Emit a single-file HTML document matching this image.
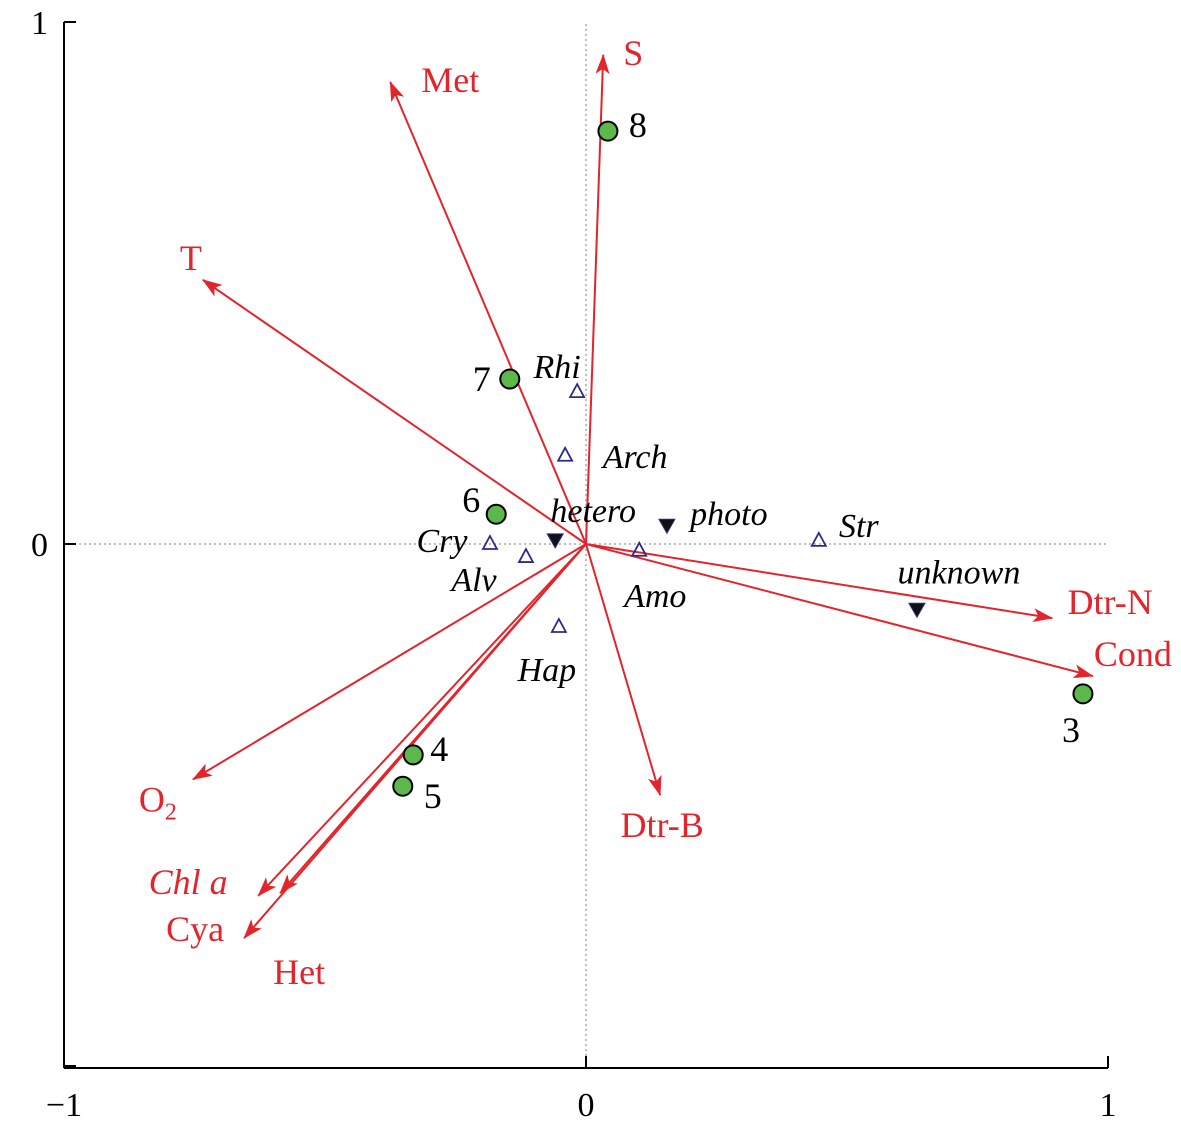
<!DOCTYPE html>
<html><head><meta charset="utf-8"><style>
html,body{margin:0;padding:0;background:#fff;}
svg text{font-family:"Liberation Serif",serif;}
</style></head><body>
<svg id="chart" width="1181" height="1131" viewBox="0 0 1181 1131" xmlns="http://www.w3.org/2000/svg">
<defs><marker id="ah" viewBox="0 0 20 14" refX="19" refY="7" markerWidth="20" markerHeight="14" orient="auto" markerUnits="userSpaceOnUse"><path d="M0,0 L20,7 L0,14 L5,7 Z" fill="#e3242b"/></marker></defs>
<g id="axes"></g>
<g id="arrows"></g>
<g id="points"></g>
</svg>
<script>
const vecNames=["S","Met","T","O2","Chl a","Cya","Het","Dtr-B","Dtr-N","Cond"];
const vecX=[0.033,-0.375,-0.734,-0.753,-0.628,-0.586,-0.655,0.142,0.893,0.971];
const vecY=[0.937,0.885,0.506,-0.451,-0.674,-0.669,-0.755,-0.481,-0.142,-0.253];
const siteNames=["8","7","6","4","5","3"];
const siteX=[0.042,-0.146,-0.172,-0.331,-0.351,0.952];
const siteY=[0.791,0.316,0.057,-0.404,-0.464,-0.287];
const taxaNames=["Rhi","Arch","Cry","Alv","Amo","Hap","Str"];
const taxaX=[-0.017,-0.040,-0.184,-0.115,0.102,-0.052,0.446];
const taxaY=[0.291,0.169,0.0,-0.025,-0.013,-0.159,0.006];
const trophNames=["hetero","photo","unknown"];
const trophX=[-0.059,0.155,0.634];
const trophY=[0.008,0.036,-0.125];
const ticks=[-1,0,1];

const NS="http://www.w3.org/2000/svg";
const sx=v=>586+v*522, sy=v=>544-v*522;
function mk(parent,tag,attrs){const e=document.createElementNS(NS,tag);for(const k in attrs)e.setAttribute(k,attrs[k]);parent.appendChild(e);return e;}
const ax=document.getElementById('axes'),ar=document.getElementById('arrows'),pt=document.getElementById('points');

let e=mk(ax,'line',{x1:sx(-1),y1:sy(-1)+2,x2:sx(1),y2:sy(-1)+2,stroke:'#000','stroke-width':2});


e=mk(ax,'line',{x1:sx(-1),y1:sy(-1)+2,x2:sx(-1),y2:sy(1),stroke:'#000','stroke-width':2});


e=mk(ax,'line',{x1:sx(-1),y1:sy(0),x2:sx(1),y2:sy(0),stroke:'#aaa','stroke-width':1.5,'stroke-dasharray':'2,3'});


e=mk(ax,'line',{x1:sx(0),y1:sy(-1),x2:sx(0),y2:sy(1),stroke:'#aaa','stroke-width':1.5,'stroke-dasharray':'2,3'});


ticks.forEach(t=>{
  let l=mk(ax,'line',{x1:sx(t),y1:sy(-1)+2,x2:sx(t),y2:sy(-1)-10,stroke:'#000','stroke-width':2});
  
  
  let tx=mk(ax,'text',{x:sx(t),y:sy(-1)+50,'text-anchor':'middle','font-size':34});
  tx.textContent=t===-1?'\u22121':String(t);
  
  
  l=mk(ax,'line',{x1:sx(-1),y1:sy(t),x2:sx(-1)+12,y2:sy(t),stroke:'#000','stroke-width':2});
  
  
  if(t!==-1){
    tx=mk(ax,'text',{x:sx(-1)-16,y:sy(t)+12,'text-anchor':'end','font-size':34});
    tx.textContent=String(t);
    
    
  }
});

const vecLab={"S":[30,10],"Met":[60,10],"T":[-12,-10],"O2":[-35,32],"Chl a":[-70,-2],"Cya":[-85,48],"Het":[55,46],"Dtr-B":[2,42],"Dtr-N":[58,-4],"Cond":[40,-10]};
vecNames.forEach((n,i)=>{
  const x=sx(vecX[i]),y=sy(vecY[i]);
  const l=mk(ar,'line',{x1:586,y1:544,x2:x,y2:y,stroke:'#e3242b','stroke-width':2,'marker-end':'url(#ah)'});
  
  
  const o=vecLab[n]||[0,0];
  const t=mk(ar,'text',{x:x+o[0],y:y+o[1],'text-anchor':'middle','font-size':36,fill:'#e3242b'});
  if(n==='O2'){t.innerHTML='O<tspan font-size="24" dy="8">2</tspan>';}
  else if(n==='Chl a'){t.textContent=n;t.setAttribute('font-style','italic');}
  else t.textContent=n;
  
  
});

const siteLab={"8":[30,6],"7":[-28,12],"6":[-25,-2],"4":[26,6],"5":[30,22],"3":[-12,48]};
siteNames.forEach((n,i)=>{
  const x=sx(siteX[i]),y=sy(siteY[i]);
  const c=mk(pt,'circle',{cx:x,cy:y,r:9.5,fill:'#5cb84a',stroke:'#000','stroke-width':2});
  
  
  const t=mk(pt,'text',{x:x+siteLab[n][0],y:y+siteLab[n][1],'text-anchor':'middle','font-size':36});
  t.textContent=n;
  
  
});

const taxaLab={"Rhi":[-20,-14],"Arch":[70,12],"Cry":[-48,8],"Alv":[-52,34],"Amo":[16,56],"Hap":[-12,54],"Str":[40,-4]};
taxaNames.forEach((n,i)=>{
  const x=sx(taxaX[i]),y=sy(taxaY[i]);
  const p=mk(pt,'path',{d:`M${x},${y-8} L${x+7},${y+5} L${x-7},${y+5} Z`,fill:'none',stroke:'#2b2b8c','stroke-width':1.8});
  
  
  const t=mk(pt,'text',{x:x+taxaLab[n][0],y:y+taxaLab[n][1],'text-anchor':'middle','font-size':34,'font-style':'italic'});
  t.textContent=n;
  
  
});

const trophLab={"hetero":[38,-18],"photo":[62,0],"unknown":[42,-26]};
trophNames.forEach((n,i)=>{
  const x=sx(trophX[i]),y=sy(trophY[i]);
  const p=mk(pt,'path',{d:`M${x-8},${y-6} L${x+8},${y-6} L${x},${y+8} Z`,fill:'#111',stroke:'#2b2b8c','stroke-width':1});
  
  
  const t=mk(pt,'text',{x:x+trophLab[n][0],y:y+trophLab[n][1],'text-anchor':'middle','font-size':34,'font-style':'italic'});
  t.textContent=n;
  
  
});
</script>
</body></html>
